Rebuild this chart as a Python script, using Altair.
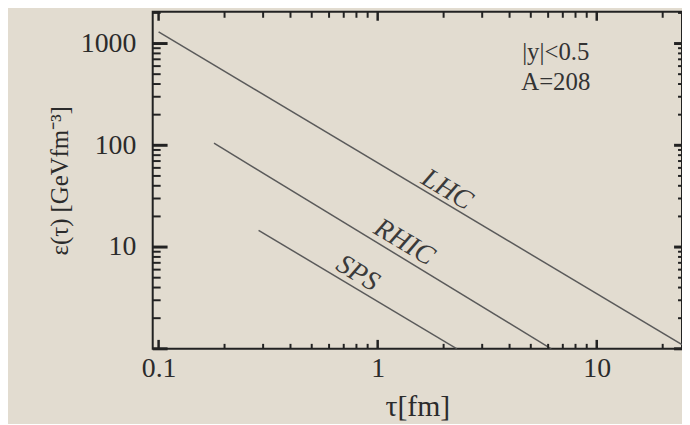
import altair as alt
import pandas as pd

# ---- data ----
tau_lhc = [0.1, 24.5]
eps_lhc = [1300, 1.1]
tau_rhic = [0.179, 6.2]
eps_rhic = [105, 1.0]
tau_sps = [0.286, 2.3]
eps_sps = [14.6, 1.0]

label_names = ["LHC", "RHIC", "SPS"]
label_tau = [2.07, 1.32, 0.81]
label_eps = [36.5, 11.1, 5.5]

note_lines = ["|y|<0.5", "A=208"]
note_tau = [6.5, 6.5]
note_eps = [820, 420]

x_major = [0.1, 1, 10]
x_minor = [0.2, 0.3, 0.4, 0.5, 0.6, 0.7, 0.8, 0.9, 2, 3, 4, 5, 6, 7, 8, 9, 20]
y_labels = [10, 100, 1000]
y_major = [1, 10, 100, 1000]
y_minor = [2, 3, 4, 5, 6, 7, 8, 9, 20, 30, 40, 50, 60, 70, 80, 90,
           200, 300, 400, 500, 600, 700, 800, 900, 2000]

# ---- tables ----
df_lines = pd.concat([
    pd.DataFrame({"tau": tau_lhc, "eps": eps_lhc, "series": "LHC"}),
    pd.DataFrame({"tau": tau_rhic, "eps": eps_rhic, "series": "RHIC"}),
    pd.DataFrame({"tau": tau_sps, "eps": eps_sps, "series": "SPS"}),
])
df_labels = pd.DataFrame({"tau": label_tau, "eps": label_eps, "name": label_names})
df_notes = pd.DataFrame({"tau": note_tau, "eps": note_eps, "txt": note_lines})

W, H = 534, 340
FONT = "Liberation Serif"
INK = "#2b2b2b"

xs = alt.Scale(type="log", domain=[0.094, 24.5], nice=False)
ys = alt.Scale(type="log", domain=[1, 2050], nice=False)

x_axis = alt.Axis(values=x_major, format="~g", title="τ[fm]",
                  labelPadding=6, titlePadding=9, labelFlush=False,
                  titleFontSize=30)
y_axis = alt.Axis(values=y_labels, format="~g", title="ε(τ) [GeVfm⁻³]",
                  labelPadding=17, titlePadding=8, titleFontSize=25)

lines = alt.Chart(df_lines).mark_line(color="#5a5a5a", strokeWidth=1.5, clip=True).encode(
    x=alt.X("tau:Q", scale=xs, axis=x_axis),
    y=alt.Y("eps:Q", scale=ys, axis=y_axis),
    detail="series:N",
)

labels = alt.Chart(df_labels).mark_text(
    font=FONT, fontStyle="italic", fontSize=28, angle=31, color="#3a3a3a",
    align="center", baseline="middle"
).encode(
    x=alt.X("tau:Q", scale=xs, axis=x_axis),
    y=alt.Y("eps:Q", scale=ys, axis=y_axis),
    text="name:N",
)

notes = alt.Chart(df_notes).mark_text(
    font=FONT, fontSize=25, color="#333333", align="center", baseline="middle"
).encode(
    x=alt.X("tau:Q", scale=xs, axis=x_axis),
    y=alt.Y("eps:Q", scale=ys, axis=y_axis),
    text="txt:N",
)


def xticks(vals, y0, y1, sw):
    return alt.Chart(pd.DataFrame({"tau": vals})).mark_rule(color="#222222", strokeWidth=sw).encode(
        x=alt.X("tau:Q", scale=xs, axis=x_axis), y=alt.value(y0), y2=alt.value(y1)
    )


def yticks(vals, x0, x1, sw):
    return alt.Chart(pd.DataFrame({"eps": vals})).mark_rule(color="#222222", strokeWidth=sw).encode(
        y=alt.Y("eps:Q", scale=ys, axis=y_axis), x=alt.value(x0), x2=alt.value(x1)
    )


ticks = [
    xticks(x_major, H, H - 9, 2.5), xticks(x_minor, H, H - 5, 2),
    xticks(x_major, 0, 9, 2.5), xticks(x_minor, 0, 6, 2),
    yticks(y_major, 0, 15, 3), yticks(y_minor, 0, 8, 2),
    yticks(y_major, W, W - 8, 3), yticks(y_minor, W, W - 4, 2),
]

chart = alt.layer(lines, labels, notes, *ticks).properties(
    width=W, height=H,
    autosize=alt.AutoSizeParams(type="none"),
    padding={"left": 146, "top": 2, "right": 0, "bottom": 74},
    background="#e2dcd0",
).configure_view(
    stroke="#222222", strokeWidth=2, fill="#e2dcd0"
).configure_axis(
    ticks=False, domain=False, grid=False,
    labelFont=FONT, labelFontSize=28, labelColor=INK,
    titleFont=FONT, titleFontWeight="normal", titleColor=INK,
    labelOverlap=False,
)

chart.save("out.html", embed_options={"renderer": "svg", "actions": False})
